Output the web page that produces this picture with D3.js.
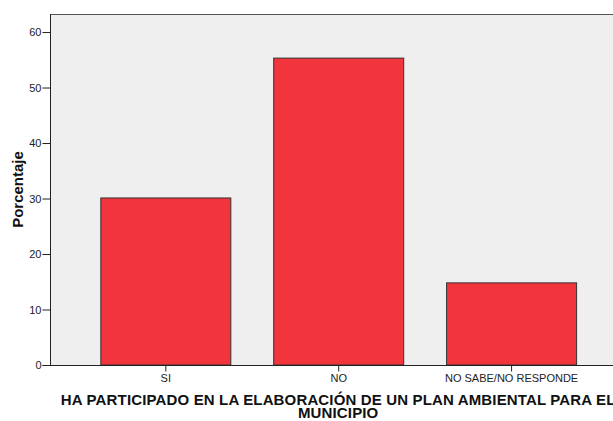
<!DOCTYPE html>
<html><head><meta charset="utf-8">
<script src="https://cdn.jsdelivr.net/npm/d3@7"></script>
<style>
html,body{margin:0;padding:0;background:#fff;}
svg{display:block;font-family:Arial,"Liberation Sans",sans-serif;}
</style></head>
<body>
<svg id="chart" width="613" height="421"></svg>
<script>
const categories = ["SI", "NO", "NO SABE/NO RESPONDE"];
const values = [30.1, 55.3, 14.8];
const yTicks = [0, 10, 20, 30, 40, 50, 60];
const xTitleLines = ["HA PARTICIPADO EN LA ELABORACIÓN DE UN PLAN AMBIENTAL PARA EL", "MUNICIPIO"];
const yTitle = "Porcentaje";

(function () {
const svg = d3.select("#chart");
const pLeft = 50, pTop = 14, pBottom = 365, pRight = 626.4;

const x = d3.scaleBand().domain(categories).range([pLeft, pRight])
  .paddingInner(0.248).paddingOuter(0.291);
const y = d3.scaleLinear().domain([0, 63.25]).range([pBottom, pTop]);

// plot background
svg.append("rect").attr("x", pLeft).attr("y", pTop)
  .attr("width", pRight - pLeft).attr("height", pBottom - pTop)
  .attr("fill", "#efefef");
svg.append("line").attr("x1", pLeft).attr("x2", pRight).attr("y1", pTop + 0.5).attr("y2", pTop + 0.5)
  .attr("stroke", "#555").attr("stroke-width", 1);

// bars
svg.append("g").selectAll("rect").data(categories).join("rect")
  .attr("x", d => x(d) + 0.5)
  .attr("y", (d, i) => y(values[i]))
  .attr("width", x.bandwidth())
  .attr("height", (d, i) => pBottom - y(values[i]))
  .attr("fill", "#f2343d")
  .attr("stroke", "#333")
  .attr("stroke-width", 1);

// y axis
const yAxis = svg.append("g").attr("transform", `translate(${pLeft + 0.5},0)`)
  .call(d3.axisLeft(y).tickValues(yTicks).tickSize(8).tickPadding(1).tickSizeOuter(0));
yAxis.select(".domain").attr("d", `M0,${pTop}V${pBottom}`).attr("stroke", "#222");
yAxis.selectAll(".tick line").attr("stroke", "#222");
yAxis.selectAll("text").attr("font-size", 11).attr("fill", "#222")
  .attr("font-family", "Arial, 'Liberation Sans', sans-serif");

// x axis
const xAxis = svg.append("g").attr("transform", `translate(0.5,${pBottom + 0.5})`)
  .call(d3.axisBottom(x).tickSize(6).tickPadding(3).tickSizeOuter(0));
xAxis.select(".domain").attr("d", `M${pLeft - 8},0H${pRight}`).attr("stroke", "#222");
xAxis.selectAll(".tick line").attr("stroke", "#222");
xAxis.selectAll("text").attr("font-size", 11).attr("fill", "#222")
  .attr("font-family", "Arial, 'Liberation Sans', sans-serif");

// x title
const cx = (pLeft + pRight) / 2;
svg.append("g").selectAll("text").data(xTitleLines).join("text")
  .attr("x", cx).attr("y", (d, i) => 405 + i * 13)
  .attr("text-anchor", "middle")
  .attr("font-size", 15).attr("font-weight", "bold").attr("fill", "#111")
  .attr("letter-spacing", 0.15)
  .text(d => d);

// y title
svg.append("text")
  .attr("transform", `translate(23,${(pTop + pBottom) / 2}) rotate(-90)`)
  .attr("text-anchor", "middle")
  .attr("font-size", 15).attr("font-weight", "bold").attr("fill", "#111")
  .text(yTitle);
})();
</script>
</body></html>
